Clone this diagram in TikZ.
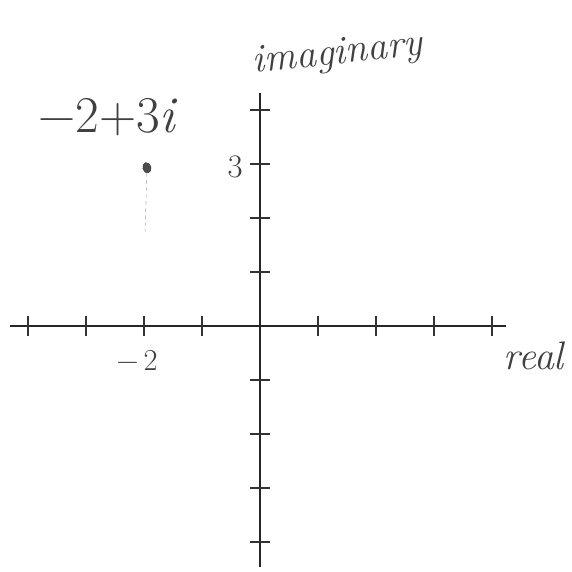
\documentclass[tikz,border=0pt]{standalone}
\usepackage{fontspec}
\usepackage{xcolor}
\usetikzlibrary{positioning,calc,shapes.geometric}

\begin{document}
\begin{tikzpicture}[x=1.74cm, y=1.62cm]
    \tikzset{axisline/.style={line width=1.5pt, black!85},
             tickmark/.style={line width=1.1pt, black!80},
             hand/.style={text=black!75, inner sep=0pt},
             dot/.style={ellipse, fill=black!70, draw=black!80, inner sep=0pt,
             minimum width=7pt, minimum height=9pt, rotate=15}}
    \useasboundingbox (-4.483,-4.537) rectangle (5.379,6.037);
    \coordinate (west) at (-4.31,0);
    \coordinate (east) at (4.24,0);
    \coordinate (south) at (0,-4.46);
    \coordinate (north) at (0,4.31);
    \draw[axisline] (west) -- (east);
    \draw[axisline] (south) -- (north);
    \foreach \i in {-4,...,-1,1,2,3,4} {
        \draw[tickmark] (\i,-0.18) -- (\i,0.18);
        \draw[tickmark] (-0.17,\i) -- (0.17,\i);
    }
    \node[dot] (pt) at (-1.95,2.93) {};
    \coordinate (foot) at (-1.98,1.75);
    \draw[black!30, dashed, line width=0.5pt] (pt) -- (foot);
    \node[hand, rotate=6, font=\fontsize{34}{38}\selectfont\itshape] (imlabel) at (1.34,5.02) {imaginary};
    \node[hand, font=\fontsize{44}{48}\selectfont] (ptlabel) at (-2.62,3.87) {−2+3\textit{i}};
    \node[hand, font=\fontsize{28}{32}\selectfont] (three) at (-0.43,2.94) {3};
    \node[hand, font=\fontsize{26}{30}\selectfont] (mtwo) at (-2.12,-0.64) {−\,2};
    \node[hand, font=\fontsize{34}{38}\selectfont\itshape] (relabel) at (4.72,-0.55) {real};
\end{tikzpicture}
\end{document}
